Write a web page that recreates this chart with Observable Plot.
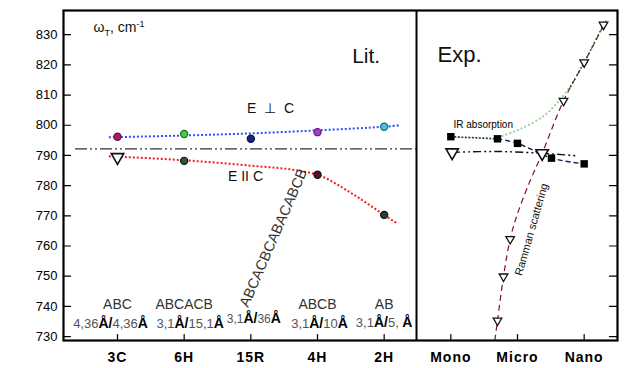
<!DOCTYPE html>
<html><head><meta charset="utf-8">
<script src="https://cdn.jsdelivr.net/npm/d3@7"></script>
<script src="https://cdn.jsdelivr.net/npm/@observablehq/plot@0.6"></script>
<style>
body{margin:0;background:#fff;}
#chart svg{display:block;}
g[aria-label="x-axis tick label"] text{letter-spacing:1px;}
</style></head><body><div id="chart"></div>
<script>
// ---- categories / ticks ----
const categories = ["3C","6H","15R","4H","2H","Mono","Micro","Nano"];
const yTicks = [730,740,750,760,770,780,790,800,810,820,830];
const panelSplit = 4.485;           // boundary between "Lit." and "Exp." panels (x index)
const referenceLevel = 792.2;       // dash-dot reference level, cm-1

// ---- Literature: E ⊥ C ----
const perpCats = [0,1,2,3,4];
const perpValues = [796.2, 797.1, 795.5, 797.7, 799.5];
const perpFitX = [-0.13, 1, 2, 3, 4, 4.24];
const perpFitY = [796.0, 796.6, 797.3, 798.3, 799.5, 800.2];

// ---- Literature: E || C ----
const parCats = [1,3,4];
const parValues = [788.2, 783.6, 770.3];
const par3CTriangle = 789.4;
const parFitX = [-0.13, 1, 2, 2.7, 3, 3.5, 4, 4.2];
const parFitY = [789.7, 788.4, 786.6, 785.0, 783.6, 777.6, 770.3, 767.4];

// ---- Experiment: IR absorption ----
const irX = [5.0, 5.70, 6.0, 6.51, 7.0];
const irY = [796.2, 795.5, 794.0, 789.1, 787.2];
const irFlatX = [5.02, 5.70, 6.37, 6.87];
const irFlatY = [791.0, 791.3, 790.7, 789.9];
const irTriX = [5.02, 6.37];
const irTriY = [791.0, 790.7];

// ---- Experiment: Raman scattering ----
const ramanX = [5.70, 5.79, 5.89, 6.37, 6.69, 7.0, 7.29];
const ramanY = [735.3, 749.9, 762.3, 790.7, 808.1, 820.8, 833.3];
const ramanLineX = [5.66, 5.70, 5.79, 5.89, 6.0, 6.19, 6.37, 6.69, 7.0, 7.33];
const ramanLineY = [728.7, 735.3, 749.9, 762.3, 770.7, 781.6, 790.7, 808.1, 820.8, 834.6];
const greenX = [5.775, 6.045, 6.375, 6.60, 6.80];
const greenY = [796.5, 798.8, 802.8, 807.5, 813.0];
const greenDarkX = [6.80, 7.0, 7.29];
const greenDarkY = [813.0, 820.8, 833.3];

// ---- annotation texts ----
const stackSeq = ["ABC", "ABCACB", "", "ABCB", "AB"];
const stackPeriods = ["4,36Å/4,36Å", "3,1Å/15,1Å", "3,1Å/36Å", "3,1Å/10Å", "3,1Å/5, Å"];
const stack15R = "ABCACBCABACABCB";
const axisTitle = "ωT, cm-1";

// ---- styles ----
const perpColors = ["#c0183c", "#3fd13f", "#14247e", "#a040c8", "#40c4dc"];
const perpStrokes = ["#4a1a7a", "#1f6a1f", "#0a1040", "#6a1a8a", "#1a6a7a"];
const parColors = ["#2f5a2f", "#55102e", "#2a3c40"];

const pts = (xs, ys) => xs.map((x, i) => ({x, y: ys[i]}));
const tickShape = {draw(context, l) { context.moveTo(0, 0); context.lineTo(0, -l); }};
const font = "'Liberation Sans', Arial, Helvetica, sans-serif";

const periodDx = [-7, 6, 3, 2, 0];
const periodY = [734.2, 734.2, 735.9, 734.2, 734.4];

const chart = Plot.plot({
  width: 633, height: 368,
  marginLeft: 63, marginRight: 16, marginTop: 10, marginBottom: 28,
  x: {domain: [-0.81, 7.5], label: null},
  y: {domain: [728.7, 838], label: null},
  style: {fontFamily: font, background: "white", color: "black", overflow: "visible"},
  marks: [
    // axes labels
    Plot.axisY({ticks: yTicks, tickSize: 0, tickPadding: 6, fontSize: 13, label: null}),
    Plot.axisX({ticks: d3.range(categories.length), tickFormat: i => categories[i], tickSize: 0, tickPadding: 12, fontSize: 14, fontWeight: "bold", label: null}),
    // inward ticks
    Plot.vector(yTicks, {y: d => d, frameAnchor: "left", length: 7, rotate: 90, anchor: "start", shape: tickShape, stroke: "black", strokeWidth: 1.2}),
    Plot.vector(yTicks, {y: d => d, frameAnchor: "right", length: 8, rotate: -90, anchor: "start", shape: tickShape, stroke: "black", strokeWidth: 1.2}),
    Plot.vector(d3.range(categories.length), {x: d => d, frameAnchor: "bottom", length: 6, anchor: "start", shape: tickShape, stroke: "black", strokeWidth: 1.2}),
    // reference dash-dot line
    Plot.ruleY([referenceLevel], {x1: -0.63, x2: panelSplit, stroke: "#333", strokeWidth: 1.2, strokeDasharray: "12,3,2,3,2,3"}),
    // Lit fits
    Plot.line(pts(perpFitX, perpFitY), {x: "x", y: "y", curve: "natural", stroke: "#2a50ff", strokeWidth: 2, strokeDasharray: "2,2", strokeLinecap: "butt"}),
    Plot.line(pts(parFitX, parFitY), {x: "x", y: "y", curve: "monotone-x", stroke: "#ff1a1a", strokeWidth: 2, strokeDasharray: "2,2", strokeLinecap: "butt"}),
    // Lit points
    Plot.dot(perpCats, {x: d => d, y: (d, i) => perpValues[i], fill: (d, i) => perpColors[i], stroke: (d, i) => perpStrokes[i], r: 3.6, strokeWidth: 1.2}),
    Plot.dot(parCats, {x: d => d, y: (d, i) => parValues[i], fill: (d, i) => parColors[i], stroke: "#111", r: 3.6, strokeWidth: 1.2}),
    Plot.dot([0], {x: d => d, y: () => par3CTriangle, symbol: "triangle", rotate: 180, r: 4.6, fill: "white", stroke: "#111", strokeWidth: 1.6}),
    // Exp: Raman
    Plot.line(pts(greenX, greenY), {x: "x", y: "y", curve: "catmull-rom", stroke: "#9fd49f", strokeWidth: 2.2, strokeDasharray: "0.1,4", strokeLinecap: "round"}),
    Plot.line(pts(ramanLineX, ramanLineY), {x: "x", y: "y", curve: "catmull-rom", stroke: "#7a1434", strokeWidth: 1.2, strokeDasharray: "6,4", strokeLinecap: "butt", clip: true}),
    Plot.line(pts(greenDarkX, greenDarkY), {x: "x", y: "y", curve: "catmull-rom", stroke: "#1a5a1a", strokeWidth: 1.8, strokeDasharray: "0.1,4", strokeLinecap: "round"}),
    // Exp: IR
    Plot.line(pts(irFlatX, irFlatY), {x: "x", y: "y", curve: "catmull-rom", stroke: "#111", strokeWidth: 1.4, strokeDasharray: "8,3,2,3,2,3", strokeLinecap: "butt"}),
    Plot.line(pts(irX.slice(0, 2), irY.slice(0, 2)), {x: "x", y: "y", stroke: "#0c3a1c", strokeWidth: 1.6, strokeDasharray: "2,1.5", strokeLinecap: "butt"}),
    Plot.line(pts(irX.slice(1), irY.slice(1)), {x: "x", y: "y", curve: "catmull-rom", stroke: "#1a1a55", strokeWidth: 1.4, strokeDasharray: "5,3", strokeLinecap: "butt"}),
    Plot.dot(pts(irX, irY), {x: "x", y: "y", symbol: "square", r: 4.2, fill: "#000"}),
    Plot.dot(pts(ramanX, ramanY), {x: "x", y: "y", symbol: "triangle", rotate: 180, r: 3.2, fill: "white", stroke: "#111", strokeWidth: 1.3}),
    Plot.dot(pts(irTriX, irTriY), {x: "x", y: "y", symbol: "triangle", rotate: 180, r: 4.6, fill: "white", stroke: "#111", strokeWidth: 1.6}),
    // panel divider + frame
    Plot.ruleX([panelSplit], {stroke: "black", strokeWidth: 2}),
    Plot.frame({stroke: "black", strokeWidth: 2.2}),
    // texts
    Plot.text([axisTitle], {x: -0.36, y: 832.3, text: d => d, textAnchor: "start", fontSize: 14, fill: "#111"}),
    Plot.text(["Lit."], {x: 3.52, y: 822.9, text: d => d, textAnchor: "start", fontSize: 21, fill: "#111"}),
    Plot.text(["Exp."], {x: 4.80, y: 823.2, text: d => d, textAnchor: "start", fontSize: 22, fill: "#111"}),
    Plot.text(["E  ⊥  C"], {x: 2.295, y: 805.5, text: d => d, fontSize: 14, fill: "#111"}),
    Plot.text(["E II C"], {x: 1.92, y: 783.0, text: d => d, fontSize: 14, fill: "#111"}),
    Plot.text(["IR absorption"], {x: 5.04, y: 800.2, text: d => d, textAnchor: "start", fontSize: 10, fill: "#000"}),
    Plot.text(["Ramman scattering"], {x: 6.21, y: 765.5, text: d => d, rotate: -74, fontSize: 11, fill: "#111"}),
    Plot.text([stack15R], {x: 2.34, y: 762.7, text: d => d, rotate: -66.5, fontSize: 14.5, fill: "#333"}),
    Plot.text(stackSeq.map((t, i) => ({t, i})).filter(d => d.t), {x: "i", y: 740.6, text: "t", fontSize: 14, fill: "#333"}),
    ...stackPeriods.map((t, i) => Plot.text([t], {x: () => i, y: () => periodY[i], text: d => d, dx: periodDx[i], fontSize: i === 2 ? 12 : 13, fill: "#555"}))
  ]
});

// rich text: bold Å and slashes, sub/superscripts in axis title
const NS = "http://www.w3.org/2000/svg";
function span(parent, s, attrs) {
  const t = document.createElementNS(NS, "tspan");
  t.textContent = s;
  for (const k in attrs) t.setAttribute(k, attrs[k]);
  parent.appendChild(t);
}
chart.querySelectorAll("text").forEach(el => {
  const s = el.textContent;
  if (stackPeriods.includes(s)) {
    el.textContent = "";
    const runs = [];
    for (const ch of s) {
      const bold = ch === "Å" || ch === "/";
      if (runs.length && runs[runs.length - 1].bold === bold) runs[runs.length - 1].s += ch;
      else runs.push({bold, s: ch});
    }
    for (const r of runs) span(el, r.s, r.bold ? {"font-weight": "bold", fill: "#000", "font-size": 14} : {fill: "#555"});
  } else if (s === axisTitle) {
    el.textContent = "";
    span(el, "ω", {});
    span(el, "T", {"font-size": 9, dy: 4});
    span(el, ", cm", {dy: -4});
    span(el, "-1", {"font-size": 9, dy: -5});
  }
});
document.getElementById("chart").appendChild(chart);
</script></body></html>
